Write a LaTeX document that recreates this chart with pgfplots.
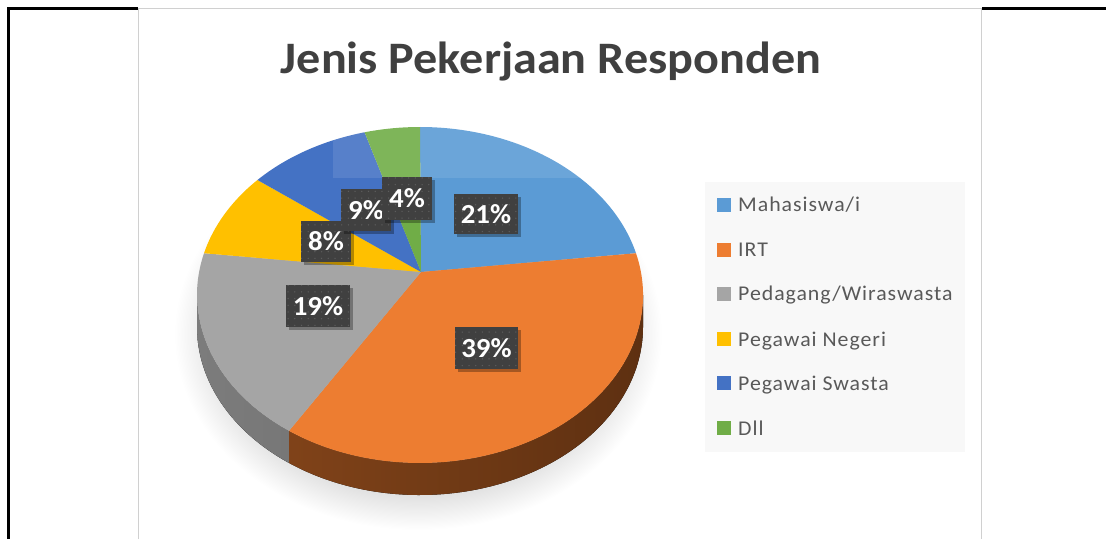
\documentclass[border=0pt]{standalone}
\usepackage{pgfplots}
\pgfplotsset{compat=1.18}
\usepackage{pgfplotstable}
\usepackage{fontspec}
\setmainfont{Carlito}
\newfontfamily\legfont[LetterSpace=4.4]{Carlito}
\usetikzlibrary{shadows,patterns.meta}
\definecolor{cMah}{HTML}{5B9BD5}
\definecolor{cIRT}{HTML}{ED7D31}
\definecolor{cPed}{HTML}{A5A5A5}
\definecolor{cNeg}{HTML}{FFC000}
\definecolor{cSwa}{HTML}{4472C4}
\definecolor{cDll}{HTML}{70AD47}
\definecolor{sideA}{HTML}{8E4A1C}
\definecolor{sideB}{HTML}{5E3011}
\definecolor{sideG}{HTML}{707070}
\definecolor{sideG2}{HTML}{7C7C7C}
\definecolor{titlecol}{HTML}{404040}
\definecolor{legtext}{HTML}{595959}
\definecolor{legbg}{HTML}{F8F8F8}
\definecolor{lblbg}{HTML}{404040}
\definecolor{lbldot}{HTML}{5C5C5C}
\definecolor{framegray}{HTML}{D0D0D0}
\pgfdeclareradialshading{pieshadow}{\pgfpoint{0bp}{0bp}}{%
 color(0bp)=(black!28); color(16bp)=(black!24); color(25bp)=(white); color(50bp)=(white)}

\pgfplotstableread{
idx value
0 21
1 39
2 19
3 8
4 9
5 4
}\piedata

\begin{document}
\begin{tikzpicture}[x=1pt,y=1pt]
\pgfplotstablegetelem{0}{value}\of\piedata \edef\vA{\pgfplotsretval}
\pgfplotstablegetelem{1}{value}\of\piedata \edef\vB{\pgfplotsretval}
\pgfplotstablegetelem{2}{value}\of\piedata \edef\vC{\pgfplotsretval}
\pgfplotstablegetelem{3}{value}\of\piedata \edef\vD{\pgfplotsretval}
\pgfplotstablegetelem{4}{value}\of\piedata \edef\vE{\pgfplotsretval}
\pgfplotstablegetelem{5}{value}\of\piedata \edef\vF{\pgfplotsretval}
\pgfmathsetmacro\tA{90}
\pgfmathsetmacro\tB{\tA-3.6*\vA}
\pgfmathsetmacro\tC{\tB-3.6*\vB}
\pgfmathsetmacro\tD{\tC-3.6*\vC}
\pgfmathsetmacro\tE{\tD-3.6*\vD}
\pgfmathsetmacro\tF{\tE-3.6*\vE}
\pgfmathsetmacro\tG{\tF-3.6*\vF}
\newcommand\slice[3]{%
 \fill[#3] (axis cs:420,295) ++(#1:223pt and 168pt) arc[start angle=#1, end angle=#2, x radius=223pt, y radius=168pt] -- (axis cs:421,272) -- cycle;}
\newcommand\side[3]{%
 \fill[#3] (axis cs:420,295) ++(#1:223pt and 168pt) arc[start angle=#1, end angle=#2, x radius=223pt, y radius=168pt] -- ++(0,-32pt) arc[start angle=#2, end angle=#1, x radius=223pt, y radius=168pt] -- cycle;}
\newcommand\plabel[5]{%
 \node[fill=lblbg, minimum width=#3pt, minimum height=#4pt, inner sep=0pt,
  drop shadow={shadow xshift=2.5pt, shadow yshift=-3pt, opacity=0.3, fill=black},
  postaction={pattern={Dots[distance=6.7pt, radius=0.75pt]}, pattern color=lbldot},
  text=white, font=\bfseries\fontsize{27.5}{30}\selectfont] at (axis cs:#1,#2) {\scalebox{1.05}[1]{#5}};}
\begin{axis}[at={(0,0)}, anchor=south west, width=1106pt, height=539pt, scale only axis,
  xmin=0, xmax=1106, ymin=0, ymax=539, y dir=reverse, hide axis, clip=false]
% frame
\fill[black] (axis cs:7,7) rectangle (axis cs:10,539);
\fill[black] (axis cs:7,7) rectangle (axis cs:138,10);
\fill[black] (axis cs:982,7) rectangle (axis cs:1106,10);
\draw[framegray, line width=1.6pt] (axis cs:138.5,539) -- (axis cs:138.5,8.6) -- (axis cs:981.5,8.6) -- (axis cs:981.5,539);
% title
\node[anchor=base, text=titlecol, font=\bfseries\fontsize{45}{54}\selectfont] at (axis cs:551,74) {\scalebox{1.07}[1]{Jenis Pekerjaan Responden}};
% shadow
\shade[shading=pieshadow] (axis cs:418,334) ellipse[x radius=244pt, y radius=196pt];
% sides
\side{0}{\tC}{left color=sideA!70!sideB, right color=sideB}
\side{\tC}{-180}{left color=sideG2, right color=sideG}
% tops
\slice{\tA}{\tB}{cMah}
\slice{\tB}{\tC}{cIRT}
\slice{\tC}{\tD}{cPed}
\slice{\tD}{\tE}{cNeg}
\slice{\tE}{\tF}{cSwa}
\slice{\tF}{\tG}{cDll}
\fill[white, opacity=0.1] (axis cs:333,118) rectangle (axis cs:645,178);
% labels
\plabel{486}{214}{64}{40}{\vA\%}
\plabel{486.5}{348}{63}{42}{\vB\%}
\plabel{318}{306}{64}{42}{\vC\%}
\plabel{326}{241.5}{50}{41}{\vD\%}
\plabel{366}{210}{50}{42}{\vE\%}
\plabel{407}{198.5}{50}{43}{\vF\%}
% legend
\fill[legbg] (axis cs:705,182) rectangle (axis cs:965,452);
\fill[cMah] (axis cs:717,198) rectangle (axis cs:731,212);
\fill[cIRT] (axis cs:717,243) rectangle (axis cs:731,257);
\fill[cPed] (axis cs:717,287) rectangle (axis cs:731,301);
\fill[cNeg] (axis cs:717,332) rectangle (axis cs:731,346);
\fill[cSwa] (axis cs:717,376) rectangle (axis cs:731,390);
\fill[cDll] (axis cs:717,421) rectangle (axis cs:731,435);
\begin{scope}[every node/.style={anchor=base west, text=legtext, inner sep=0pt, font=\legfont\fontsize{21}{25}\selectfont}]
\node at (axis cs:738,212) {\scalebox{1.04}[1]{Mahasiswa/i}};
\node at (axis cs:738,257) {\scalebox{1.04}[1]{IRT}};
\node at (axis cs:738,301) {\scalebox{1.04}[1]{Pedagang/Wiraswasta}};
\node at (axis cs:738,346) {\scalebox{1.04}[1]{Pegawai Negeri}};
\node at (axis cs:738,390) {\scalebox{1.04}[1]{Pegawai Swasta}};
\node at (axis cs:738,435) {\scalebox{1.04}[1]{Dll}};
\end{scope}
\end{axis}
\path[use as bounding box] (0,0) rectangle (1106,539);
\end{tikzpicture}
\end{document}
